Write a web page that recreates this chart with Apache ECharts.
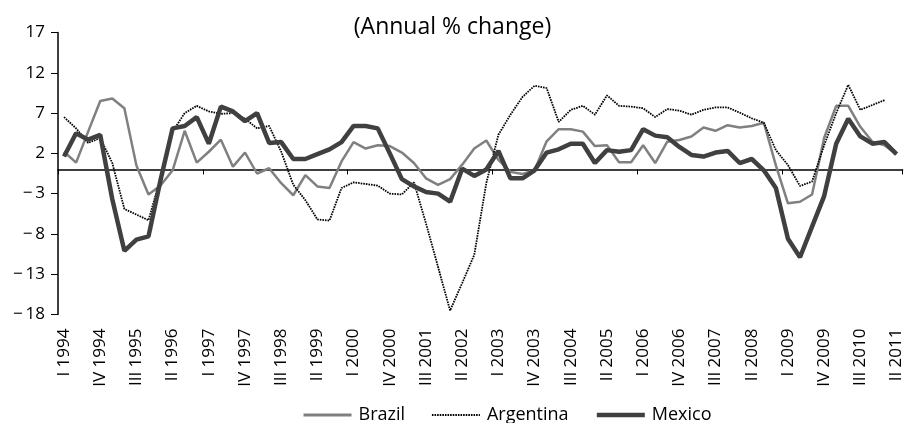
<!DOCTYPE html>
<html>
<head>
<meta charset="utf-8">
<script src="https://cdn.jsdelivr.net/npm/echarts@6/dist/echarts.min.js"></script>
<style>
html,body{margin:0;padding:0;background:#fff;}
#chart{width:905px;height:423px;}
</style>
</head>
<body>
<div id="chart"></div>
<script>
var romans = ['I', 'II', 'III', 'IV'];
var years = [1994, 1995, 1996, 1997, 1998, 1999, 2000, 2001, 2002, 2003, 2004, 2005, 2006, 2007, 2008, 2009, 2010, 2011];
var quarters = [];
years.forEach(function (y) { romans.forEach(function (r) { quarters.push(r + ' ' + y); }); });
quarters = quarters.slice(0, 70); // I 1994 ... II 2011

var brazil = [2.2, 0.85, 4.7, 8.5, 8.8, 7.6, 0.5, -3.1, -2.0, -0.1,
  4.8, 0.85, 2.2, 3.7, 0.35, 2.1, -0.5, 0.15, -1.7, -3.2,
  -0.7, -2.1, -2.3, 1.0, 3.4, 2.6, 3.0, 2.9, 2.1, 0.8,
  -1.1, -1.9, -1.2, 0.6, 2.6, 3.6, 1.2, -0.3, -0.55, -0.1,
  3.5, 5.0, 5.0, 4.7, 2.9, 3.0, 0.9, 0.9, 3.0, 0.8,
  3.45, 3.65, 4.1, 5.2, 4.8, 5.5, 5.2, 5.4, 5.8, 0.5,
  -4.2, -4.0, -3.1, 3.9, 7.9, 7.9, 5.3, 3.45, 3.0, 1.9];

var argentina = [6.5, 5.1, 3.3, 3.9, 0.8, -4.9, -5.6, -6.3, -1.0, 4.7,
  7.0, 7.9, 7.2, 6.9, 7.0, 6.3, 5.1, 5.4, 2.2, -1.9,
  -3.8, -6.2, -6.35, -2.3, -1.6, -1.8, -2.0, -3.0, -3.1, -1.6,
  -6.7, -12.1, -17.5, -14.1, -10.6, -1.7, 4.3, 6.8, 9.0, 10.4,
  10.1, 5.9, 7.4, 7.9, 6.8, 9.2, 7.9, 7.8, 7.6, 6.5,
  7.5, 7.3, 6.8, 7.4, 7.7, 7.7, 7.05, 6.35, 5.8, 2.4,
  0.55, -2.05, -1.5, 3.0, 7.0, 10.5, 7.4, 8.0, 8.6, null];

var mexico = [1.6, 4.5, 3.7, 4.3, -3.7, -10.1, -8.7, -8.3, -1.3, 5.1,
  5.4, 6.5, 3.2, 7.8, 7.2, 6.0, 7.0, 3.3, 3.4, 1.3,
  1.3, 1.9, 2.5, 3.4, 5.4, 5.4, 5.1, 2.0, -1.2, -2.1,
  -2.8, -3.0, -4.0, 0.1, -0.8, 0.0, 2.3, -1.1, -1.1, -0.1,
  2.1, 2.5, 3.2, 3.2, 0.8, 2.4, 2.2, 2.4, 5.0, 4.2,
  4.0, 2.8, 1.8, 1.6, 2.1, 2.3, 0.8, 1.3, -0.1, -2.3,
  -8.6, -10.9, -7.1, -3.3, 3.2, 6.3, 4.1, 3.2, 3.4, 1.9];

var yTicks = [-18, -13, -8, -3, 2, 7, 12, 17];
var titleText = '(Annual % change)';

var FONT = 'Open Sans';
var chart = echarts.init(document.getElementById('chart'), null, { renderer: 'canvas' });
chart.setOption({
  animation: false,
  backgroundColor: '#fff',
  textStyle: { fontFamily: FONT, color: '#000' },
  title: {
    text: titleText, left: 'center', top: 11,
    textStyle: { fontFamily: FONT, fontSize: 23, fontWeight: 'normal', color: '#000' }
  },
  legend: {
    data: [
      { name: 'Brazil', lineStyle: { width: 3 } },
      { name: 'Argentina', lineStyle: { width: 1.8 } },
      { name: 'Mexico', lineStyle: { width: 4.5 } }
    ],
    left: 297, top: 401, itemWidth: 48, itemHeight: 10, itemGap: 26,
    itemStyle: { opacity: 0, borderWidth: 0 },
    textStyle: { fontFamily: FONT, fontSize: 18, color: '#000', padding: [0, 0, 0, 2] }
  },
  grid: { left: 58, top: 32.5, width: 848, height: 282, containLabel: false },
  xAxis: [
    {
      type: 'category', data: quarters, boundaryGap: true, position: 'bottom',
      axisLine: { show: false, onZero: false }, axisTick: { show: false },
      axisLabel: { rotate: 90, interval: 2, margin: 14, fontFamily: FONT, fontSize: 17, color: '#000' },
      splitLine: { show: false }
    },
    {
      type: 'category', data: quarters, boundaryGap: true, position: 'top',
      axisLine: { show: true, onZero: true, lineStyle: { color: '#000', width: 1.5 } },
      axisTick: { show: true, interval: 11, inside: true, length: 5, lineStyle: { color: '#000', width: 1 } },
      axisLabel: { show: false }, splitLine: { show: false }
    }
  ],
  yAxis: {
    type: 'value', min: yTicks[0], max: yTicks[yTicks.length - 1], interval: 5,
    axisLine: { show: true, lineStyle: { color: '#000', width: 1.5 } },
    axisTick: { show: true, length: 7, lineStyle: { color: '#000', width: 1 } },
    splitLine: { show: false },
    axisLabel: {
      margin: 13, fontFamily: FONT, fontSize: 17, color: '#000',
      formatter: function (v) { return v < 0 ? '\u2212\u2009' + Math.abs(v) : String(v); }
    }
  },
  series: [
    {
      name: 'Brazil', type: 'line', data: brazil, xAxisIndex: 0, symbol: 'none',
      lineStyle: { color: '#808080', width: 2.5 }, itemStyle: { color: '#808080' }
    },
    {
      name: 'Argentina', type: 'line', data: argentina, xAxisIndex: 0, symbol: 'none',
      lineStyle: { color: '#000', width: 1.8, type: [1.6, 1] }, itemStyle: { color: '#000' }
    },
    {
      name: 'Mexico', type: 'line', data: mexico, xAxisIndex: 0, symbol: 'none',
      lineStyle: { color: '#404040', width: 4.5 }, itemStyle: { color: '#404040' }
    }
  ]
});
</script>
</body>
</html>
